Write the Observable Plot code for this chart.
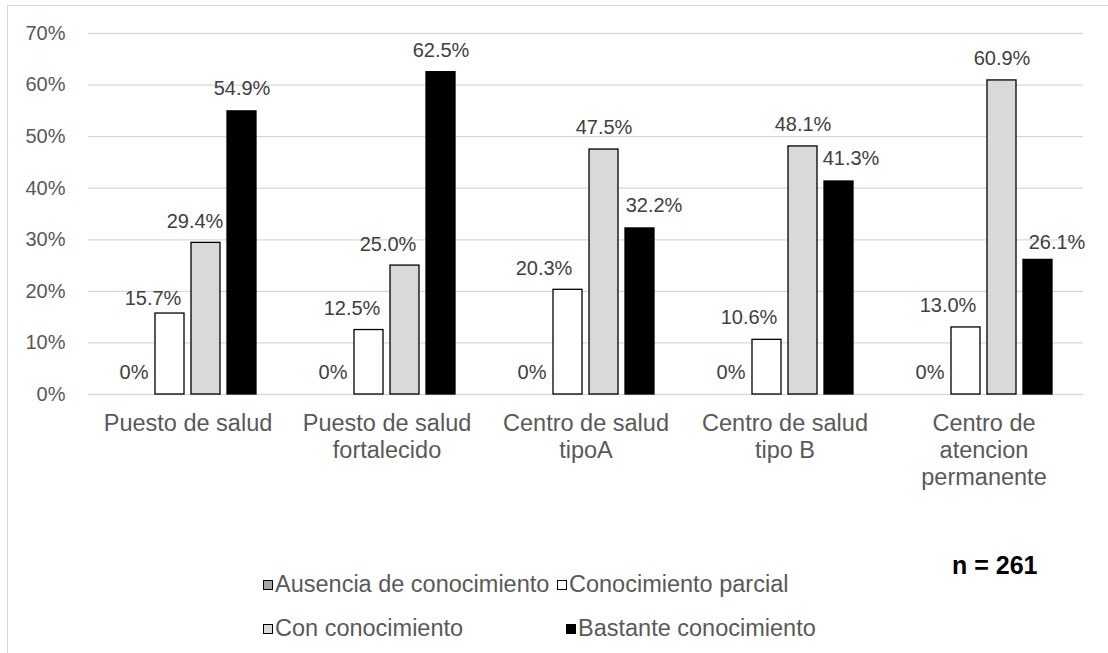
<!DOCTYPE html>
<html>
<head>
<meta charset="utf-8">
<script src="https://cdn.jsdelivr.net/npm/d3@7"></script>
<script src="https://cdn.jsdelivr.net/npm/@observablehq/plot@0.6"></script>
<style>
  html, body { margin: 0; padding: 0; background: #fff; }
  #wrap { position: relative; width: 1108px; height: 653px; overflow: hidden; font-family: "Liberation Sans", Arial, sans-serif; }
  #frame { position: absolute; left: 7px; top: 5px; width: 1120px; height: 700px; border: 1px solid #d9d9d9; box-sizing: border-box; }
  #chart { position: absolute; left: 0; top: 0; }
  .leg { position: absolute; display: flex; align-items: center; font-size: 23.5px; color: #595959; white-space: nowrap; line-height: 1; }
  .sw { width: 10px; height: 10px; box-sizing: border-box; border: 1.3px solid #000; margin-right: 2px; }
  #n { position: absolute; left: 952px; top: 551px; font-size: 25px; font-weight: bold; color: #000; white-space: nowrap; }
</style>
</head>
<body>
<div id="wrap">
  <div id="frame"></div>
  <div id="chart"></div>
  <div id="legend"></div>
  <div id="n">n = 261</div>
</div>
<script>
// ---- data ----
const categories = ["Puesto de salud", "Puesto de salud fortalecido", "Centro de salud tipoA", "Centro de salud tipo B", "Centro de atencion permanente"];
const tickLabels = ["Puesto de salud", "Puesto de salud\nfortalecido", "Centro de salud\ntipoA", "Centro de salud\ntipo B", "Centro de\natencion\npermanente"];
const series = ["Ausencia de conocimiento", "Conocimiento parcial", "Con conocimiento", "Bastante conocimiento"];
const ausencia = [0, 0, 0, 0, 0];
const parcial = [15.7, 12.5, 20.3, 10.6, 13.0];
const conConocimiento = [29.4, 25.0, 47.5, 48.1, 60.9];
const bastante = [54.9, 62.5, 32.2, 41.3, 26.1];
const yTicks = [0, 10, 20, 30, 40, 50, 60, 70];

// ---- styles / layout tweaks (label nudges, not data) ----
const seriesColors = ["#a6a6a6", "#ffffff", "#d9d9d9", "#000000"];
const labelDx = [
  [0, 0, 0, 0, 0],
  [-17, -17, -24, -18, -18],
  [-11, -17, 0, 0, 0],
  [0, 0, 14, 12, 19]
];
const labelDy = [
  [-22, -22, -22, -22, -22],
  [-15, -21, -21, -22, -22],
  [-21, -21, -22, -22, -22],
  [-23, -22, -23, -23, -17]
];

const valuesBySeries = [ausencia, parcial, conConocimiento, bastante];
const rows = [];
series.forEach((s, si) => {
  categories.forEach((c, ci) => {
    rows.push({cat: c, series: s, value: valuesBySeries[si][ci], dx: labelDx[si][ci], dy: labelDy[si][ci]});
  });
});
const fmt = v => v === 0 ? "0%" : v.toFixed(1) + "%";

// group labels by their offsets (dx/dy are constants per text mark)
const groups = d3.groups(rows, d => d.dx + "," + d.dy);
const labelMarks = groups.map(([k, arr]) => Plot.text(arr, {
  fx: "cat", x: "series", y: "value", text: d => fmt(d.value),
  dx: arr[0].dx, dy: arr[0].dy, fontSize: 20, fill: "#404040", lineAnchor: "middle"
}));

const chart = Plot.plot({
  width: 1108,
  height: 500,
  marginLeft: 88,
  marginRight: 25,
  marginTop: 33,
  marginBottom: 106,
  style: {fontFamily: "'Liberation Sans', Arial, sans-serif", background: "transparent", overflow: "visible"},
  fx: {domain: categories, padding: 0, label: null},
  x: {domain: series, paddingInner: 0.194, paddingOuter: 0.847, axis: null},
  y: {domain: [0, 70], label: null},
  color: {domain: series, range: seriesColors},
  marks: [
    Plot.gridY(yTicks, {stroke: "#d9d9d9", strokeOpacity: 1, strokeWidth: 1.3}),
    Plot.axisY(yTicks, {tickSize: 0, tickPadding: 23, fontSize: 20, fill: "#595959", tickFormat: d => d + "%", label: null}),
    Plot.axisFx({anchor: "bottom", tickSize: 0, tickPadding: 17, fontSize: 23.5, lineHeight: 1.15, fill: "#595959",
      tickFormat: c => tickLabels[categories.indexOf(c)], label: null}),
    Plot.barY(rows.filter(d => d.value > 0), {fx: "cat", x: "series", y: "value", fill: "series", stroke: "#000", strokeWidth: 1.3}),
    ...labelMarks
  ]
});
document.getElementById("chart").appendChild(chart);

// ---- legend (HTML, below the SVG) ----
const legendPos = [
  {left: 263, top: 573},
  {left: 557, top: 573},
  {left: 263, top: 617},
  {left: 566, top: 617}
];
const legend = document.getElementById("legend");
series.forEach((s, i) => {
  const item = document.createElement("div");
  item.className = "leg";
  item.style.left = legendPos[i].left + "px";
  item.style.top = legendPos[i].top + "px";
  const sw = document.createElement("span");
  sw.className = "sw";
  sw.style.background = seriesColors[i];
  const t = document.createElement("span");
  t.textContent = s;
  item.appendChild(sw);
  item.appendChild(t);
  legend.appendChild(item);
});
</script>
</body>
</html>
